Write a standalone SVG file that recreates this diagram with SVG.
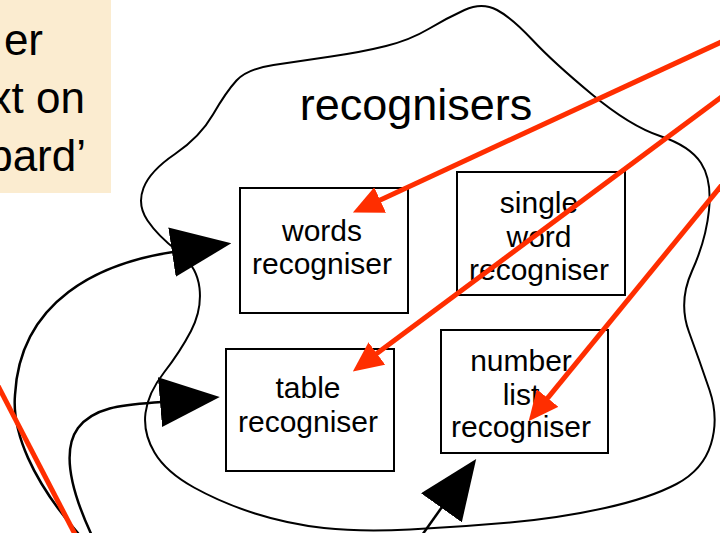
<svg xmlns="http://www.w3.org/2000/svg" width="720" height="533" viewBox="0 0 720 533">
<style>
  text { font-family: "Liberation Sans", Arial, sans-serif; fill: #000; }
  .box { fill: #fff; stroke: #000; stroke-width: 2; }
  .lbl { font-size: 30px; text-anchor: middle; }
  .title { font-size: 45px; text-anchor: middle; }
  .note-text { font-size: 44px; text-anchor: end; }
  .blob { fill: none; stroke: #000; stroke-width: 2; }
  .conn { fill: none; stroke: #000; stroke-width: 2.5; }
  .red { fill: none; stroke: #ff2e00; stroke-width: 5; }
</style>
<defs>
  <marker id="blackhead" markerUnits="userSpaceOnUse" markerWidth="60" markerHeight="50" viewBox="0 0 60 50" refX="1" refY="25" orient="auto">
    <path d="M0,0 L60,25 L0,50 Z" fill="#000"/>
  </marker>
  <marker id="redhead" markerUnits="userSpaceOnUse" markerWidth="30" markerHeight="28" viewBox="0 0 30 28" refX="1" refY="14" orient="auto">
    <path d="M0,0 L30,14 L0,28 Z" fill="#ff2e00"/>
  </marker>
</defs>
<rect width="720" height="533" fill="#fff"/>

<g id="note">
  <rect x="0" y="0" width="111" height="193" fill="#fbecd0"/>
  <text class="note-text" x="43" y="55">er</text>
  <text class="note-text" x="85" y="113">xt on</text>
  <text class="note-text" x="86" y="171">bard’</text>
</g>

<g id="recognisers">
  <path class="blob" d="M236.5,80.5 Q247,69 273.5,65 Q300,61 331,56.5 Q362,52 386,46 Q410,40 428.5,29 Q447,18 464.5,10 Q482,2 497,10 Q512,18 532.5,40 Q553,62 591.5,94 Q630,126 660,136 Q690,146 701,163 Q712,180 709,210 Q706,240 692,271 Q678,302 689,332 Q700,362 709.5,390 Q719,418 711,444 Q703,470 676.5,484 Q650,498 605,508 Q560,518 510,522.5 Q460,527 410,529.5 Q360,532 324,528 Q288,524 255,513.5 Q222,503 194,487.5 Q166,472 154.5,452.5 Q143,433 145.5,413 Q148,393 164,372.5 Q180,352 191,331 Q202,310 199.5,288 Q197,266 177.5,251 Q158,236 147.5,220.5 Q137,205 143.5,188 Q150,171 175,154 Q200,137 213,114.5 Q226,92 236.5,80.5 Z"/>
  <text class="title" x="416" y="120">recognisers</text>
</g>

<g id="words-recogniser">
  <rect class="box" x="240" y="188" width="168" height="125"/>
  <text class="lbl" x="322" y="241">words</text>
  <text class="lbl" x="322" y="274">recogniser</text>
</g>

<g id="single-word-recogniser">
  <rect class="box" x="457" y="172" width="168" height="123"/>
  <text class="lbl" x="539" y="213">single</text>
  <text class="lbl" x="539" y="247">word</text>
  <text class="lbl" x="539" y="280">recogniser</text>
</g>

<g id="table-recogniser">
  <rect class="box" x="226" y="349" width="168" height="122"/>
  <text class="lbl" x="308" y="398">table</text>
  <text class="lbl" x="308" y="432">recogniser</text>
</g>

<g id="number-list-recogniser">
  <rect class="box" x="441" y="330" width="167" height="123"/>
  <text class="lbl" x="521" y="371">number</text>
  <text class="lbl" x="521" y="405">list</text>
  <text class="lbl" x="521" y="437">recogniser</text>
</g>

<g id="connectors">
  <path class="conn" marker-end="url(#blackhead)" d="M84,540 C30,480 12,430 15,395 C20,300 100,263 173,252"/>
  <path class="conn" marker-end="url(#blackhead)" d="M94,540 C70,490 62,450 78,428 C95,406 125,405 161,402"/>
  <path class="conn" marker-end="url(#blackhead)" d="M415,545 L442,507"/>
  <path class="red" marker-end="url(#redhead)" d="M730,38 L379.2,200.4"/>
  <path class="red" marker-end="url(#redhead)" d="M730,90.6 L376.1,354.1"/>
  <path class="red" marker-end="url(#redhead)" d="M730,175 L547,398.8"/>
  <path class="red" d="M-5,380 L78,540"/>
</g>
</svg>
